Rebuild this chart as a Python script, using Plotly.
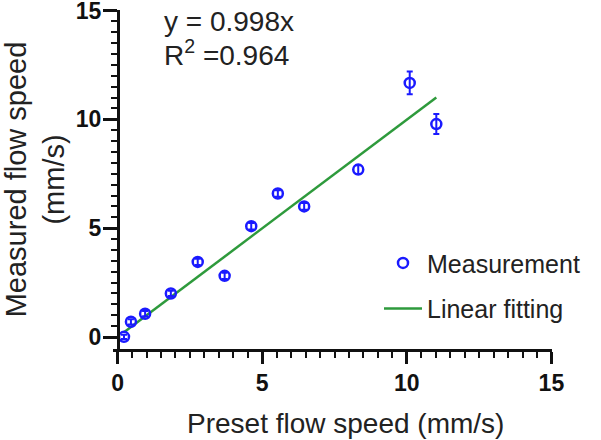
import plotly.graph_objects as go

# Data
preset_speed = [0.22, 0.46, 0.95, 1.84, 2.77, 3.70, 4.62, 5.54, 6.45, 8.32, 10.10, 11.02]
measured_speed = [0.01, 0.70, 1.07, 2.00, 3.45, 2.81, 5.09, 6.59, 6.00, 7.69, 11.67, 9.78]
measured_err = [0.10, 0.12, 0.12, 0.12, 0.14, 0.14, 0.15, 0.15, 0.15, 0.20, 0.52, 0.46]

fit_slope = 0.998
fit_r2 = 0.964
fit_x = [0.22, 11.02]
fit_y = [fit_slope * v for v in fit_x]

major_ticks = [0, 5, 10, 15]
minor_ticks = [i * 0.5 for i in range(31) if (i * 0.5) % 5 != 0]

FONT = "Liberation Sans, Arial, Helvetica, sans-serif"
BLUE = "#1a1aff"
GREEN = "#2e9a3c"

fig = go.Figure()
fig.add_trace(go.Scatter(
    x=fit_x, y=fit_y, mode="lines", name="Linear fitting", legendgroup="fit", legendrank=2,
    line=dict(color=GREEN, width=2.5),
))
fig.add_trace(go.Scatter(
    x=preset_speed, y=measured_speed, mode="markers", name="Measurement", legendgroup="meas",
    legendrank=1,
    marker=dict(symbol="circle-open", size=10, color=BLUE, line=dict(width=2.5, color=BLUE)),
    error_y=dict(type="data", array=measured_err, visible=True, color=BLUE, thickness=2, width=3),
))

fig.add_annotation(x=1.54, y=14.47, xref="x", yref="y", text="y = 0.998x",
                   showarrow=False, xanchor="left", yanchor="middle",
                   font=dict(family=FONT, size=28, color="#222"))
fig.add_annotation(x=1.54, y=13.05, xref="x", yref="y", text="R<sup>2</sup> =%.3f" % fit_r2,
                   showarrow=False, xanchor="left", yanchor="middle",
                   font=dict(family=FONT, size=28, color="#222"))
# x-axis title (placed as annotation to match the reference's horizontal offset)
fig.add_annotation(x=7.87, y=-0.219, xref="x", yref="paper", text="Preset flow speed (mm/s)",
                   showarrow=False, xanchor="center", yanchor="middle",
                   font=dict(family=FONT, size=28, color="#222"))

axis_common = dict(
    showgrid=False, zeroline=False, showline=True, linecolor="#111", linewidth=2.5,
    ticks="outside", tickcolor="#111", tickwidth=2.5, automargin=False,
    tickmode="array", tickvals=major_ticks, ticktext=[str(v) for v in major_ticks],
    tickfont=dict(family=FONT, size=23, color="#111", weight="bold"),
    ticklabeloverflow="allow",
    minor=dict(ticks="outside", tickmode="array", tickvals=minor_ticks, ticklen=6,
               tickwidth=2, tickcolor="#111"),
)

fig.update_layout(
    width=601, height=440,
    margin=dict(l=113, r=49, t=10, b=91),
    paper_bgcolor="white", plot_bgcolor="white",
    font=dict(family=FONT, color="#222"),
    xaxis=dict(range=[-0.16, 15.02], ticklen=12, **axis_common),
    yaxis=dict(range=[-0.55, 15.02], ticklen=14, anchor="free", position=0.16 / 15.18,
               ticklabelstandoff=-3,
               **axis_common,
               title=dict(text="Measured flow speed<br>(mm/s)", font=dict(family=FONT, size=29, color="#222"),
                          standoff=7)),
    showlegend=True,
    legend=dict(x=(379 - 113) / 439, y=0.321, xanchor="left", yanchor="top",
                font=dict(family=FONT, size=25, color="#222"),
                bgcolor="rgba(0,0,0,0)", traceorder="grouped", itemwidth=38,
                tracegroupgap=10, borderwidth=0),
)

fig.write_html("out.html", config={"displayModeBar": False},
               post_script="document.body.style.margin='0';document.body.style.overflow='hidden';")
